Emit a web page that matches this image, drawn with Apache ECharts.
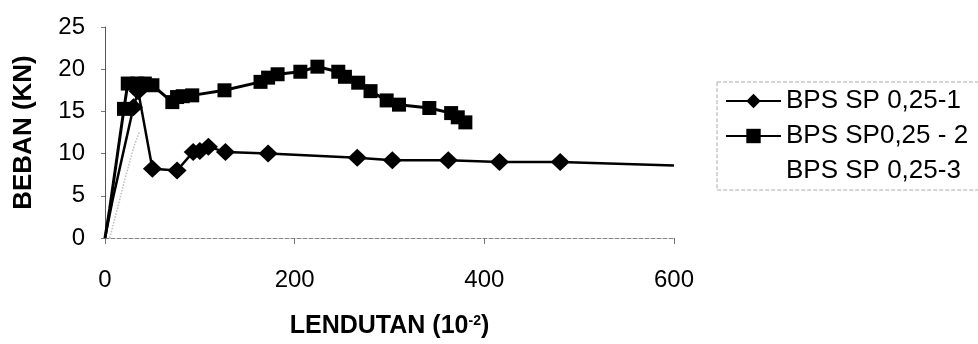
<!DOCTYPE html>
<html>
<head>
<meta charset="utf-8">
<script src="https://cdn.jsdelivr.net/npm/echarts@6/dist/echarts.min.js"></script>
<style>
html,body{margin:0;padding:0;background:#fff;}
#chart{width:978px;height:344px;}
</style>
</head>
<body>
<div id="chart"></div>
<script>
// 系列名称
var seriesNames = ['BPS SP 0,25-1', 'BPS SP0,25 - 2', 'BPS SP 0,25-3'];
// 坐标轴刻度
var xTicks = [0, 200, 400, 600];
var yTicks = [0, 5, 10, 15, 20, 25];

// BPS SP 0,25-1  [lendutan, beban]
var bps1 = [
	[0, 0], [8, 4.5], [20, 10.5], [30, 15.5], [35, 17.4], [50, 8.2], [76, 8.0],
	[93, 10.2], [100, 10.3], [109, 10.8], [127, 10.2], [172, 10.0], [266, 9.5],
	[303, 9.2], [362, 9.2], [416, 9.0], [480, 9.0], [600, 8.6]
];
// BPS SP0,25 - 2
var bps2 = [
	[0, 0], [5, 3.5], [14, 10.6], [20, 15.3], [24, 18.3], [34, 18.3], [42, 18.3],
	[50, 18.1], [71, 16.1], [76, 16.7], [82, 16.8], [92, 16.9], [126, 17.5],
	[164, 18.5], [172, 19.0], [182, 19.4], [206, 19.7], [224, 20.3], [246, 19.7],
	[253, 19.1], [267, 18.4], [280, 17.4], [297, 16.3], [310, 15.8], [342, 15.4],
	[365, 14.8], [372, 14.3], [380, 13.7]
];
// BPS SP 0,25-3 (very faint in the scan)
var bps3 = [
	[5, 0], [12, 3], [21, 7], [31, 11], [36, 12.5]
];

var font = 'Liberation Sans';
var chart = echarts.init(document.getElementById('chart'));

// 上升段下部和最后一个点不画标记
function markPoints(arr) {
	return arr.map(function(p, i) {
		if ((p[0] < 25 && p[1] < 15) || (i == arr.length - 1 && p[0] >= 600)) {
			return {value: p, symbol: 'none'};
		}
		return p;
	});
}

var option = {
	backgroundColor: '#fff',
	animation: false,
	textStyle: {fontFamily: font, color: '#000'},
	grid: {
		left: 105,
		right: 304,
		top: 27,
		bottom: 104
	},
	legend: {
		orient: 'vertical',
		left: 717,
		top: 82,
		padding: [6, 60, 6, 8],
		itemGap: 9,
		itemWidth: 55,
		itemHeight: 18,
		borderColor: '#aaa',
		borderWidth: 1,
		borderType: 'dashed',
		selectedMode: false,
		textStyle: {fontFamily: font, fontSize: 26, color: '#000'},
		data: [
			{name: seriesNames[0]},
			{name: seriesNames[1]},
			{name: seriesNames[2], itemStyle: {opacity: 0}, lineStyle: {opacity: 0}}
		]
	},
	xAxis: {
		type: 'value',
		min: 0,
		max: 600,
		interval: 200,
		name: '{a|LENDUTAN (10}{s|-2}{a|)}',
		nameLocation: 'middle',
		nameGap: 76,
		nameTextStyle: {
			rich: {
				a: {fontFamily: font, fontSize: 25, fontWeight: 'bold', color: '#000'},
				s: {fontFamily: font, fontSize: 14, fontWeight: 'bold', color: '#000', verticalAlign: 'top', padding: [0, 0, 10, 0]}
			}
		},
		axisLine: {lineStyle: {color: '#888', width: 1, type: 'dashed'}},
		axisTick: {show: true, length: 6, lineStyle: {color: '#777'}},
		axisLabel: {
			fontFamily: font, fontSize: 24, color: '#000', margin: 30,
			formatter: function(v) { return xTicks.indexOf(v) > -1 ? v : ''; }
		},
		splitLine: {show: false}
	},
	yAxis: {
		type: 'value',
		min: 0,
		max: 25,
		interval: 5,
		name: 'BEBAN (KN)',
		nameLocation: 'middle',
		nameRotate: 90,
		nameGap: 68,
		nameTextStyle: {fontFamily: font, fontSize: 26, fontWeight: 'bold', color: '#000'},
		axisLine: {show: true, lineStyle: {color: '#555', width: 1}},
		axisTick: {show: true, length: 4, lineStyle: {color: '#777'}},
		axisLabel: {
			fontFamily: font, fontSize: 24, color: '#000', margin: 20,
			formatter: function(v) { return yTicks.indexOf(v) > -1 ? v : ''; }
		},
		splitLine: {show: false}
	},
	series: [{
		name: seriesNames[2],
		type: 'line',
		data: bps3,
		symbol: 'none',
		color: '#bdbdbd',
		lineStyle: {color: '#bdbdbd', width: 1.5, type: 'dotted'},
		z: 1
	}, {
		name: seriesNames[0],
		type: 'line',
		data: markPoints(bps1),
		symbol: 'diamond',
		symbolSize: [19, 18],
		color: '#000',
		itemStyle: {color: '#000'},
		lineStyle: {color: '#000', width: 2.5},
		z: 3
	}, {
		name: seriesNames[1],
		type: 'line',
		data: markPoints(bps2),
		symbol: 'rect',
		symbolSize: 14,
		color: '#000',
		itemStyle: {color: '#000'},
		lineStyle: {color: '#000', width: 3},
		z: 2
	}]
};
chart.setOption(option);
</script>
</body>
</html>
